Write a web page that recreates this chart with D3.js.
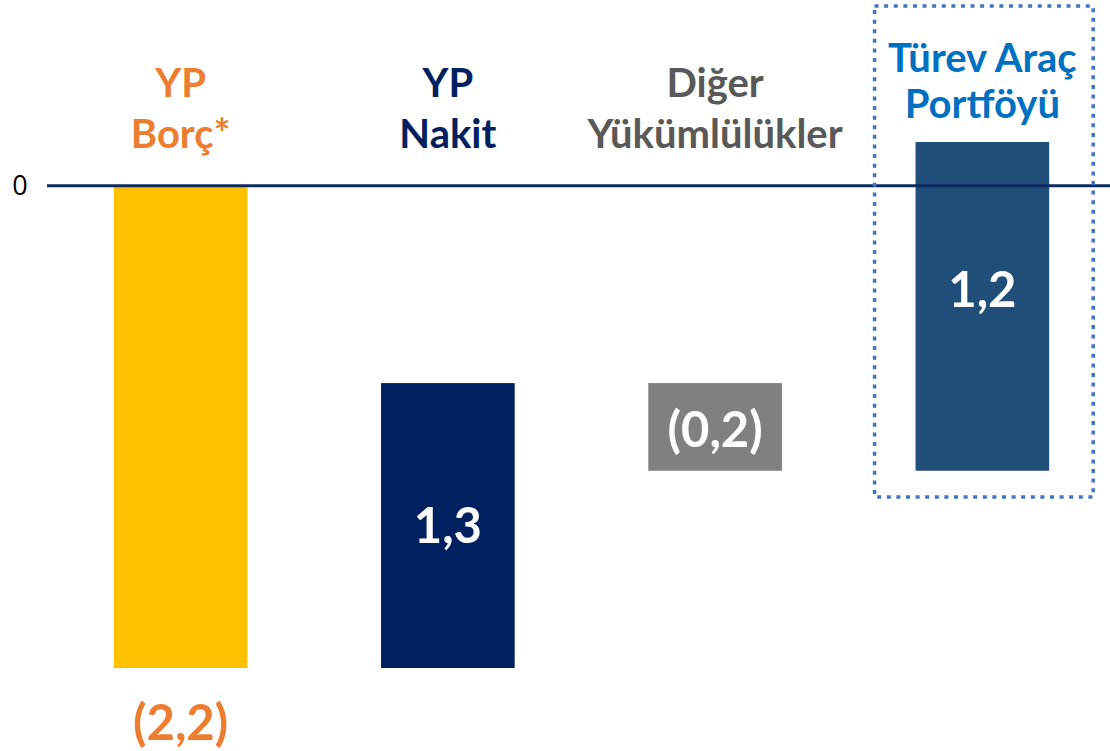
<!DOCTYPE html>
<html>
<head>
<meta charset="utf-8">
<script src="https://cdn.jsdelivr.net/npm/d3@7"></script>
<style>
  body { margin: 0; background: #fff; }
  svg { display: block; font-family: Lato, "Open Sans", sans-serif; }
</style>
</head>
<body>
<div id="chart"></div>
<script>
// categories (two lines each) and waterfall extents
const categories = ["YP Borç*", "YP Nakit", "Diğer Yükümlülükler", "Türev Araç Portföyü"];
const labelLines = [["YP", "Borç*"], ["YP", "Nakit"], ["Diğer", "Yükümlülükler"], ["Türev Araç", "Portföyü"]];
const barStart = [0, -2.2, -0.9, -1.3];
const barEnd = [-2.2, -0.9, -1.3, 0.2];
const valueLabels = ["(2,2)", "1,3", "(0,2)", "1,2"];
const yTicks = [0];

const barColors = ["#FFC000", "#002060", "#808080", "#1F4E79"];
const labelColors = ["#ED7D31", "#002060", "#595959", "#0070C0"];

const W = 1110, H = 751;

const svg = d3.select("#chart").append("svg")
    .attr("width", W)
    .attr("height", H);

const x = d3.scaleBand()
    .domain(categories)
    .range([47, 1116])
    .paddingInner(0.5)
    .paddingOuter(0.25);

const y = d3.scaleLinear()
    .domain([-2.2, 0.2])
    .range([668, 142]);

// bars
svg.selectAll(".bar")
    .data(categories)
    .enter()
    .append("rect")
    .attr("class", "bar")
    .attr("x", d => x(d))
    .attr("width", x.bandwidth())
    .attr("y", (d, i) => y(Math.max(barStart[i], barEnd[i])))
    .attr("height", (d, i) => Math.abs(y(barStart[i]) - y(barEnd[i])))
    .attr("fill", (d, i) => barColors[i]);

// zero line
svg.append("line")
    .attr("x1", 47)
    .attr("x2", W)
    .attr("y1", y(0))
    .attr("y2", y(0))
    .attr("stroke", "#0E2A5F")
    .attr("stroke-width", 3);

svg.selectAll(".ytick")
    .data(yTicks)
    .enter()
    .append("text")
    .attr("class", "ytick")
    .attr("x", 20)
    .attr("y", d => y(d))
    .attr("dy", "0.35em")
    .attr("text-anchor", "middle")
    .style("font-family", "'Open Sans', sans-serif")
    .style("font-size", "27px")
    .attr("fill", "#000")
    .text(d => d);

// category labels
const labelBase = [97, 97, 97, 72];
const labelGap = [51, 51, 51, 46];
categories.forEach((c, i) => {
    labelLines[i].forEach((line, j) => {
        svg.append("text")
            .attr("x", x(c) + x.bandwidth() / 2)
            .attr("y", labelBase[i] + j * labelGap[i])
            .attr("text-anchor", "middle")
            .style("font-size", "40px")
            .style("font-weight", "bold")
            .attr("fill", labelColors[i])
            .text(line);
    });
});

// value labels
const labelShift = [0, 0, 3, -17];
svg.selectAll(".val")
    .data(categories)
    .enter()
    .append("text")
    .attr("class", "val")
    .attr("x", d => x(d) + x.bandwidth() / 2)
    .attr("y", (d, i) => {
        if (i === 0) return y(barEnd[0]) + 55;
        return (y(barStart[i]) + y(barEnd[i])) / 2 + labelShift[i];
    })
    .attr("dy", "0.35em")
    .attr("text-anchor", "middle")
    .style("font-size", "49px")
    .style("font-weight", "bold")
    .attr("fill", (d, i) => i === 0 ? "#ED7D31" : "#fff")
    .text((d, i) => valueLabels[i]);

// dotted highlight box around the last category
const last = categories[3];
svg.append("rect")
    .attr("x", x(last) - 41)
    .attr("y", 6)
    .attr("width", x.bandwidth() + 85)
    .attr("height", 491)
    .attr("fill", "none")
    .attr("stroke", "#4472C4")
    .attr("stroke-width", 3.5)
    .attr("stroke-dasharray", "4 5.6");
</script>
</body>
</html>
